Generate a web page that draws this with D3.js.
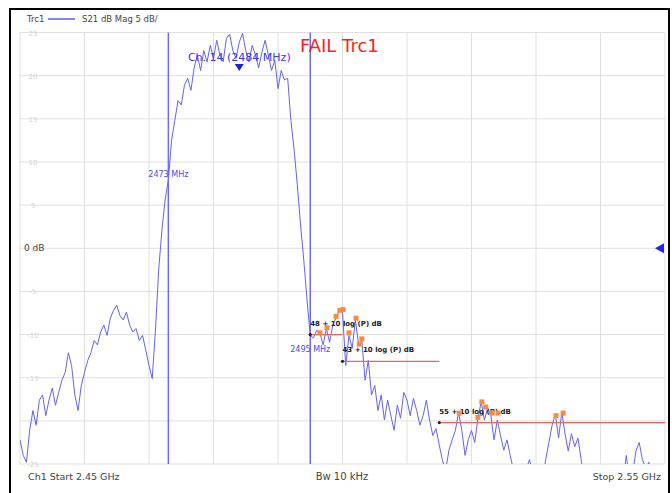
<!DOCTYPE html>
<html>
<head>
<meta charset="utf-8">
<script src="https://cdn.jsdelivr.net/npm/d3@7"></script>
<style>
  body { margin: 0; background: #fff; }
  text { font-family: "DejaVu Sans", sans-serif; }
</style>
</head>
<body>
<div id="chart"></div>
<script>
// sweep: 2.45 GHz -> 2.55 GHz, one point every 0.5 MHz
var startMHz = 2450, stopMHz = 2550, stepMHz = 0.5;

// S21 dB Mag (Trc1)
var s21 = [
  -22.2,-24.0,-24.8,-21.1,-18.8,-20.5,-17.6,-17.0,-19.4,-17.6,
  -16.2,-18.2,-16.7,-15.3,-14.4,-12.1,-13.6,-17.0,-18.8,-15.9,
  -14.4,-13.0,-12.1,-10.7,-11.2,-9.7,-8.9,-10.1,-8.1,-7.2,
  -6.6,-7.8,-8.3,-7.4,-8.9,-9.7,-9.3,-10.7,-10.1,-11.8,
  -13.6,-15.1,-9.5,-2.5,2.1,5.6,7.9,12.5,14.8,17.1,
  16.6,18.9,19.7,18.3,20.9,22.4,20.6,22.9,21.6,23.5,
  22.0,24.1,22.4,21.6,24.3,24.8,22.9,22.0,23.9,24.9,
  22.9,21.6,23.5,22.4,20.9,22.7,24.1,22.4,20.6,21.8,
  18.5,20.6,19.5,19.7,14.8,11.4,7.3,2.7,-1.4,-6.0,
  -10.1,-10.4,-9.5,-9.8,-11.2,-9.3,-10.9,-8.9,-8.1,-7.2,
  -7.4,-13.6,-10.1,-11.6,-8.3,-11.2,-10.7,-15.3,-13.0,-17.0,
  -15.9,-18.8,-17.0,-19.9,-17.6,-19.4,-21.1,-18.2,-19.7,-16.7,
  -17.6,-19.4,-17.4,-18.8,-20.5,-19.4,-17.6,-19.9,-21.7,-20.9,
  -22.8,-24.6,-25.7,-23.4,-22.2,-21.1,-19.0,-21.1,-24.0,-22.2,
  -21.1,-22.5,-19.7,-17.8,-19.9,-18.5,-19.4,-22.2,-19.9,-21.7,
  -23.4,-22.2,-24.0,-25.7,
  -27,-27,-27,-25.5,-24.5,-26,-25,-27,-27,-24.5,
  -22.5,-20.5,-19.2,-22.0,-19.0,-21.5,-23.5,-21.5,-23,-22,
  -24.5,-27,
  -27,-27,-27,-27,-27,-27,-27,-27,-27,-27,-27,-27,
  -24.0,-27,-26,-23.5,-22.5,-24.5,-25.5,-24.8,-27,-27,-27,-27,-27
];

var yTicks = [25, 20, 15, 10, 5, 0, -5, -10, -15, -20, -25];

// channel markers
var markerFreq = [2473, 2495];
var markerLabel = ["2473 MHz", "2495 MHz"];
var markerLabelDb = [8.3, -12.0];

// limit lines
var limitText = ["48 + 10 log (P) dB", "43 + 10 log (P) dB", "55 + 10 log (P) dB"];
var limitStart = [2495, 2500, 2515];
var limitStop = [2500, 2515, 2550];
var limitDb = [-10.0, -13.1, -20.2];

// points flagged as failing
var failFreq = [2496.5, 2497.6, 2499.0, 2499.6, 2500.1, 2501.0, 2502.1, 2502.6, 2503.0,
                2518.1, 2521.0, 2521.6, 2522.2, 2523.2, 2524.1, 2533.1, 2534.2];
var failDb = [-9.8, -9.2, -7.9, -7.2, -7.1, -9.8, -8.1, -11.1, -10.5,
              -19.1, -19.6, -17.8, -18.4, -19.1, -19.1, -19.4, -19.1];

var W = 672, H = 493;
var plotL = 20, plotR = 665, plotT = 32.5, plotB = 464;

var svg = d3.select("#chart").append("svg")
    .attr("width", W)
    .attr("height", H);

var x = d3.scaleLinear().domain([startMHz, stopMHz]).range([plotL, plotR]);
var y = d3.scaleLinear().domain([-25, 25]).range([plotB, plotT]);

// outer frame
svg.append("rect")
    .attr("x", 10).attr("y", 9)
    .attr("width", 659).attr("height", 495)
    .attr("fill", "none")
    .attr("stroke", "#000")
    .attr("stroke-width", 2);

// grid
var grid = svg.append("g");
grid.selectAll("line.v")
    .data(d3.range(startMHz, stopMHz + 1, 10))
    .enter().append("line")
    .attr("x1", d => x(d)).attr("x2", d => x(d))
    .attr("y1", plotT).attr("y2", plotB)
    .attr("stroke", "#e0e0e0");
grid.selectAll("line.h")
    .data(yTicks)
    .enter().append("line")
    .attr("x1", plotL).attr("x2", plotR)
    .attr("y1", d => y(d)).attr("y2", d => y(d))
    .attr("stroke", "#e0e0e0");

// y labels (faint, like the analyzer screen)
svg.append("g").selectAll("text")
    .data(yTicks)
    .enter().append("text")
    .attr("x", d => d == 0 ? 24 : 33)
    .attr("y", d => y(d) + 3)
    .attr("text-anchor", d => d == 0 ? "start" : "middle")
    .attr("font-size", d => d == 0 ? "9px" : "7px")
    .attr("fill", d => d == 0 ? "#444" : "#d4d4d4")
    .text(d => d == 0 ? "0 dB" : d);

// reference position arrow
svg.append("path")
    .attr("d", "M" + (plotR - 1) + "," + (y(0) - 5) + " L" + (plotR - 10) + "," + y(0) + " L" + (plotR - 1) + "," + (y(0) + 5) + "Z")
    .attr("fill", "#2222ff");

// trace
var traceData = s21.map((v, i) => [startMHz + i * stepMHz, v]);
svg.append("clipPath").attr("id", "clip")
    .append("rect")
    .attr("x", plotL).attr("y", plotT)
    .attr("width", plotR - plotL).attr("height", plotB - plotT);

svg.append("path")
    .datum(traceData)
    .attr("clip-path", "url(#clip)")
    .attr("fill", "none")
    .attr("stroke", "#6262ff")
    .attr("stroke-width", 1)
    .attr("d", d3.line().x(d => x(d[0])).y(d => y(d[1])));

// channel marker lines
svg.append("g").selectAll("line")
    .data(markerFreq)
    .enter().append("line")
    .attr("x1", d => x(d)).attr("x2", d => x(d))
    .attr("y1", plotT).attr("y2", plotB)
    .attr("stroke", "#6b6bff")
    .attr("stroke-width", 1.5);

svg.append("g").selectAll("text")
    .data(markerFreq)
    .enter().append("text")
    .attr("x", d => x(d))
    .attr("y", (d, i) => y(markerLabelDb[i]))
    .attr("text-anchor", "middle")
    .attr("font-size", "8px")
    .attr("fill", "#4a4aff")
    .text((d, i) => markerLabel[i]);

// limit lines
var lim = svg.append("g");
lim.selectAll("line")
    .data(limitDb)
    .enter().append("line")
    .attr("x1", (d, i) => x(limitStart[i]))
    .attr("x2", (d, i) => x(limitStop[i]))
    .attr("y1", d => y(d)).attr("y2", d => y(d))
    .attr("stroke", "#ee6464")
    .attr("stroke-width", 1.3);
lim.selectAll("circle")
    .data(limitDb)
    .enter().append("circle")
    .attr("cx", (d, i) => x(limitStart[i]))
    .attr("cy", d => y(d))
    .attr("r", 1.6)
    .attr("fill", "#222");
lim.selectAll("text")
    .data(limitDb)
    .enter().append("text")
    .attr("x", (d, i) => x(limitStart[i]))
    .attr("y", d => y(d) - 9)
    .attr("font-size", "7px")
    .attr("font-weight", "bold")
    .attr("fill", "#222")
    .text((d, i) => limitText[i]);

// failing points
svg.append("g").selectAll("rect")
    .data(failDb)
    .enter().append("rect")
    .attr("x", (d, i) => x(failFreq[i]) - 2.5)
    .attr("y", d => y(d) - 2.5)
    .attr("width", 5).attr("height", 5)
    .attr("fill", "#ff8a3c");

// channel 14 marker
var chX = x(2484);
svg.append("text")
    .attr("x", chX).attr("y", 61)
    .attr("text-anchor", "middle")
    .attr("font-size", "11px")
    .attr("fill", "#3838ee")
    .text("Ch. 14 (2484 MHz)");
svg.append("path")
    .attr("d", "M" + (chX - 4.5) + ",64 L" + (chX + 4.5) + ",64 L" + chX + ",71Z")
    .attr("fill", "#2020dd");

svg.append("text")
    .attr("x", 300).attr("y", 52)
    .attr("font-family", "'Open Sans', sans-serif")
    .attr("font-size", "18px")
    .attr("fill", "#ff2020")
    .text("FAIL Trc1");

// legend
svg.append("text")
    .attr("x", 27).attr("y", 22)
    .attr("font-family", "'DejaVu Sans Mono', monospace")
    .attr("font-size", "8.5px").attr("fill", "#444")
    .text("Trc1");
svg.append("line")
    .attr("x1", 48).attr("x2", 75)
    .attr("y1", 19).attr("y2", 19)
    .attr("stroke", "#4040ff").attr("stroke-width", 1.3);
svg.append("text")
    .attr("x", 82).attr("y", 22)
    .attr("font-family", "'DejaVu Sans Mono', monospace")
    .attr("font-size", "8.5px").attr("fill", "#444")
    .text("S21 dB Mag 5 dB/");

// bottom status line
svg.append("text")
    .attr("x", 28).attr("y", 480)
    .attr("font-size", "9.5px").attr("fill", "#444")
    .text("Ch1 Start 2.45 GHz");
svg.append("text")
    .attr("x", 342).attr("y", 480)
    .attr("text-anchor", "middle")
    .attr("font-size", "10px").attr("fill", "#444")
    .text("Bw 10 kHz");
svg.append("text")
    .attr("x", 661).attr("y", 480)
    .attr("text-anchor", "end")
    .attr("font-size", "9.5px").attr("fill", "#444")
    .text("Stop 2.55 GHz");
</script>
</body>
</html>
